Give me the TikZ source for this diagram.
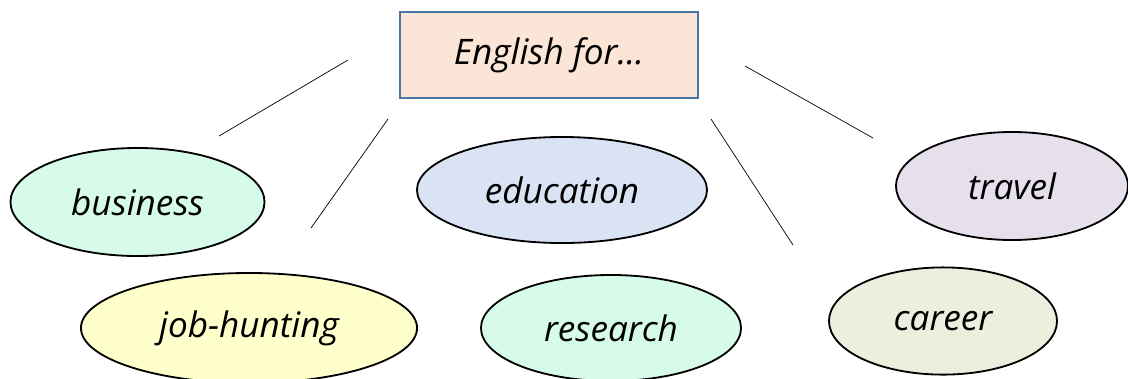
\documentclass[tikz,border=0pt]{standalone}
\usepackage{fontspec}
\setmainfont{Open Sans}
\usepackage{xcolor}
\usetikzlibrary{positioning,shapes.geometric}

\definecolor{boxfill}{HTML}{FBE5D6}
\definecolor{boxline}{HTML}{4A76A4}
\definecolor{mint}{HTML}{D6FBE8}
\definecolor{paleblue}{HTML}{DAE3F3}
\definecolor{lavender}{HTML}{E6E0EC}
\definecolor{paleyellow}{HTML}{FFFFCC}
\definecolor{paleolive}{HTML}{EBF0DE}

\begin{document}
\begin{tikzpicture}[
  x=0.025cm, y=-0.025cm,
  topic/.style={draw=boxline, line width=1.5pt, fill=boxfill, minimum width=7.45cm, minimum height=2.15cm, font=\fontsize{25}{29}\selectfont\itshape},
  field/.style={ellipse, draw, line width=1.3pt, inner sep=0pt, font=\fontsize{25}{29}\selectfont\itshape},
  conn/.style={black, line width=0.5pt}
]
  \useasboundingbox (0,0) rectangle (1128,378);

  \node[topic] (eng) at (549,55) {English for...};

  \node[field, fill=mint, minimum width=6.35cm, minimum height=2.7cm] (bus) at (137.5,202) {business};
  \node[field, fill=paleblue, minimum width=7.25cm, minimum height=2.65cm] (edu) at (562,190) {education};
  \node[field, fill=lavender, minimum width=5.8cm, minimum height=2.7cm] (trav) at (1012,186) {travel};
  \node[field, fill=paleyellow, minimum width=8.4cm, minimum height=2.75cm] (job) at (249,328) {job-hunting};
  \node[field, fill=mint, minimum width=6.5cm, minimum height=2.65cm] (res) at (611,328) {research};
  \node[field, fill=paleolive, minimum width=5.7cm, minimum height=2.68cm] (car) at (943,321) {career};

  % loose strokes around the title
  \coordinate (a1) at (348,60);  \coordinate (a2) at (219,136);
  \coordinate (b1) at (388,119); \coordinate (b2) at (311,228);
  \coordinate (c1) at (711,119); \coordinate (c2) at (793,245);
  \coordinate (d1) at (745,66);  \coordinate (d2) at (873,138);
  \draw[conn] (a1) -- (a2);
  \draw[conn] (b1) -- (b2);
  \draw[conn] (c1) -- (c2);
  \draw[conn] (d1) -- (d2);
\end{tikzpicture}
\end{document}
